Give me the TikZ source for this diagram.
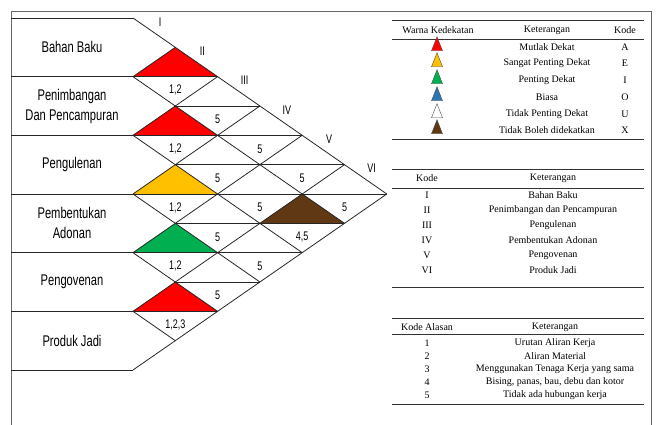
\documentclass[tikz,border=0pt]{standalone}
\usepackage{fontspec}
\setmainfont{Liberation Serif}
\newfontfamily\chartfont[FakeStretch=0.72]{Liberation Sans}
\usetikzlibrary{shapes.geometric,positioning}

\definecolor{akode}{HTML}{FF0000}
\definecolor{ekode}{HTML}{FFC000}
\definecolor{ikode}{HTML}{00B050}
\definecolor{okode}{HTML}{2E75B6}
\definecolor{xkode}{HTML}{603813}

\tikzset{
  chartframe/.style={line width=0.9pt, black!60},
  gridline/.style={line width=0.8pt, black!85},
  tablerule/.style={line width=0.8pt, black!80},
  dept/.style={font=\chartfont\fontsize{15.5}{20}\selectfont, align=center},
  reason/.style={font=\chartfont\fontsize{12.5}{14}\selectfont, inner sep=0pt},
  legtext/.style={font=\fontsize{10}{12}\selectfont, inner sep=0pt},
  legtri/.style={isosceles triangle, shape border rotate=90,
    isosceles triangle stretches, minimum width=11pt, minimum height=14pt,
    inner sep=0pt, draw=black!70}
}

\begin{document}
\begin{tikzpicture}[x=1pt,y=-1pt]
  \useasboundingbox (0,0) rectangle (664,425);
  \def\chartx{133} \def\charty{18}
  \def\cellw{42.3} \def\cellh{29.333}
  \draw[chartframe] (11,425) -- (11,11) -- (651,11) -- (651,425);

  % points on the left side and on the two outer edges
  \foreach \k in {0,...,6}{
    \coordinate (F\k) at (11,{\charty+2*\k*\cellh});
    \coordinate (L\k) at (\chartx,{\charty+2*\k*\cellh});
    \coordinate (T\k) at ({\chartx+\k*\cellw},{\charty+\k*\cellh});
    \coordinate (B\k) at ({\chartx+\k*\cellw},{\charty+12*\cellh-\k*\cellh});
  }

  % closeness colours and reasons
  \foreach \i/\j/\c/\r in {1/2/akode/{1,2}, 1/3/none/5, 1/4/none/5, 1/5/none/5,
      1/6/none/5, 2/3/akode/{1,2}, 2/4/none/5, 2/5/none/5, 2/6/xkode/{4,5},
      3/4/ekode/{1,2}, 3/5/none/5, 3/6/none/5, 4/5/ikode/{1,2}, 4/6/none/5,
      5/6/akode/{1,2,3}}{
    \pgfmathsetmacro\cx{\chartx+(\j-\i)*\cellw}
    \pgfmathsetmacro\cy{\charty+(\i+\j-1)*\cellh}
    \path[fill=\c] ({\cx-\cellw},\cy) -- ({\cx+\cellw},\cy) -- (\cx,{\cy-\cellh}) -- cycle;
    \node[reason] (r\i\j) at (\cx,{\cy+13.5}) {\r};
  }

  \foreach \k in {0,...,6}
    \draw[gridline] (F\k) -- (L\k);
  \foreach \k [evaluate=\k as \m using int(6-\k)] in {0,...,5}
    \draw[gridline] (L\k) -- (B\m);
  \foreach \k in {1,...,6}
    \draw[gridline] (L\k) -- (T\k);
  \foreach \t in {2,...,10}{
    \pgfmathsetmacro\xa{isodd(\t) ? \chartx+\cellw : \chartx}
    \pgfmathsetmacro\xb{\chartx+min(\t,12-\t)*\cellw}
    \pgfmathsetmacro\yh{\charty+\t*\cellh}
    \draw[gridline] (\xa,\yh) -- (\xb,\yh);
  }

  \foreach \dname [count=\k] in {Bahan Baku, Penimbangan\\Dan Pencampuran, Pengulenan,
      Pembentukan\\Adonan, Pengovenan, Produk Jadi}
    \node[dept] (dept\k) at (72,{\charty+(2*\k-1)*\cellh}) {\dname};
  \foreach \r [count=\k from 0] in {I,II,III,IV,V,VI}
    \node[reason] (lab\k) at ({\chartx+\k*\cellw+27},{\charty+\k*\cellh+4}) {\r};

  % legend: closeness
  \draw[tablerule] (392,20) -- (644,20) (392,39) -- (644,39) (392,139) -- (644,139);
  \node[legtext] (hwarna) at (438,30) {Warna Kedekatan};
  \node[legtext] (hket1) at (547,30) {Keterangan};
  \node[legtext] (hkode1) at (625,30) {Kode};
  \foreach \y/\c/\txt/\k [count=\n] in {47/akode/Mutlak Dekat/A,
      63/ekode/Sangat Penting Dekat/E, 80/ikode/Penting Dekat/I, 97/okode/Biasa/O,
      114/white/Tidak Penting Dekat/U, 130/xkode/Tidak Boleh didekatkan/X}{
    \node[legtri, fill=\c] (sym\n) at (437,\y) {};
    \node[legtext] (ket\n) at (547,\y) {\txt};
    \node[legtext] (kode\n) at (625,\y) {\k};
  }

  % legend: departments
  \draw[tablerule] (392,169) -- (644,169) (392,188) -- (644,188) (392,287) -- (644,287);
  \node[legtext] (hkode2) at (427,178) {Kode};
  \node[legtext] (hket2) at (553,178) {Keterangan};
  \foreach \r/\txt [count=\n] in {I/Bahan Baku, II/Penimbangan dan Pencampuran,
      III/Pengulenan, IV/Pembentukan Adonan, V/Pengovenan, VI/Produk Jadi}{
    \node[legtext] (rom\n) at (427,{180+15*\n}) {\r};
    \node[legtext] (dket\n) at (553,{180+15*\n}) {\txt};
  }

  % legend: reasons
  \draw[tablerule] (392,318) -- (644,318) (392,334) -- (644,334) (392,404) -- (644,404);
  \node[legtext] (hkode3) at (427,327) {Kode Alasan};
  \node[legtext] (hket3) at (555,327) {Keterangan};
  \foreach \txt [count=\n] in {Urutan Aliran Kerja, Aliran Material,
      Menggunakan Tenaga Kerja yang sama, {Bising, panas, bau, debu dan kotor},
      Tidak ada hubungan kerja}{
    \node[legtext] (num\n) at (427,{330+13*\n}) {\n};
    \node[legtext] (aket\n) at (555,{330+13*\n}) {\txt};
  }
\end{tikzpicture}
\end{document}
